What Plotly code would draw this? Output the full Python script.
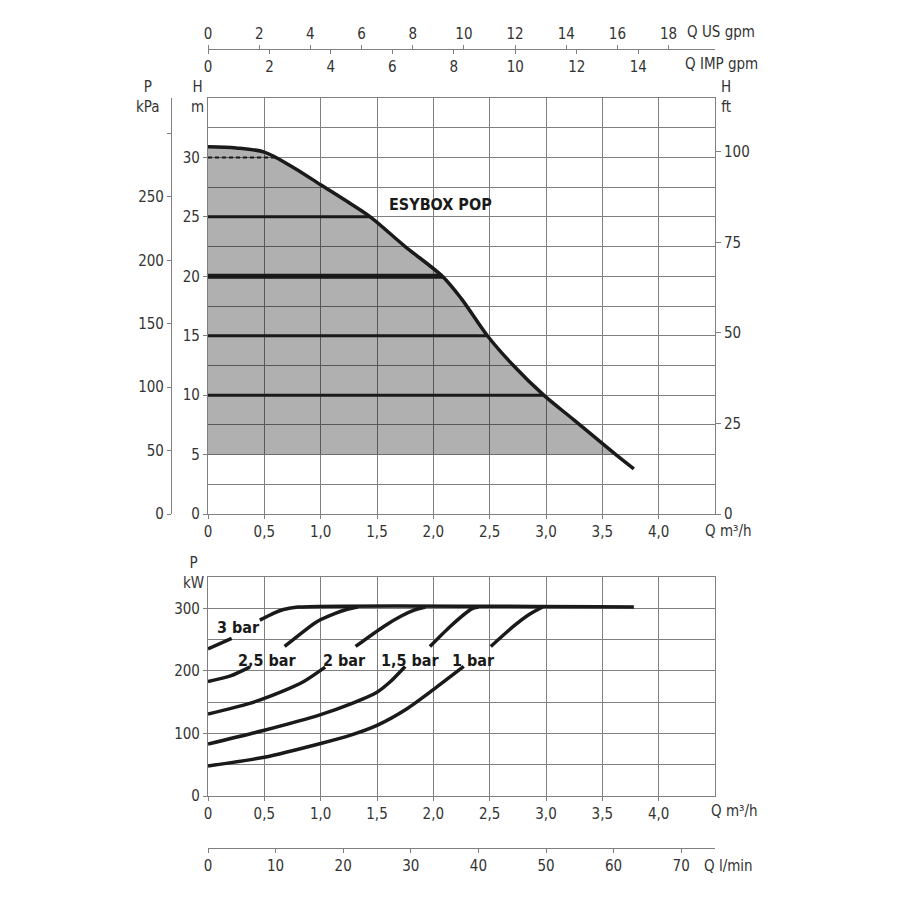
import plotly.graph_objects as go

# pump curve H(Q), Q in m3/h, H in m
q_curve = [0, 0.25, 0.5, 0.75, 1.0, 1.25, 1.44, 1.75, 2.08, 2.25, 2.48, 2.7, 2.98, 3.25, 3.62, 3.78]
h_curve = [30.9, 30.8, 30.45, 29.2, 27.7, 26.2, 25.0, 22.5, 20.0, 18.1, 15.0, 12.6, 10.0, 7.9, 5.0, 3.8]

# constant pressure lines inside the working area
h_levels = [10, 15, 20, 25]
q_level_end = [2.98, 2.48, 2.08, 1.44]
h_dashed = 30
q_dashed_end = 0.6
h_area_min = 5

# absorbed power, kW (None = gap for the label)
p_curves = {
    "3 bar": ([0, 0.21, None, 0.46, 0.58, 0.67, 0.8, 3.78],
              [235, 252, None, 281, 292, 298, 302, 302]),
    "2,5 bar": ([0, 0.2, 0.37, None, 0.68, 0.97, 1.13, 1.23, 1.33],
                [183, 192, 206, None, 239, 279, 292, 298, 302]),
    "2 bar": ([0, 0.37, 0.67, 0.85, 1.04, None, 1.31, 1.56, 1.72, 1.83, 1.93],
              [131, 148, 168, 183, 206, None, 239, 271, 288, 297, 302]),
    "1,5 bar": ([0, 0.5, 1.0, 1.25, 1.5, 1.62, 1.75, None, 1.97, 2.15, 2.34, 2.4],
                [83, 105, 130, 146, 166, 183, 207, None, 239, 271, 299, 302]),
    "1 bar": ([0, 0.5, 1.0, 1.26, 1.5, 1.77, 2.0, 2.27, None, 2.51, 2.71, 2.85, 2.97],
              [48, 62, 84, 97, 113, 140, 170, 207, None, 239, 271, 290, 302]),
}
label_q = [0.27, 0.53, 1.21, 1.80, 2.36]
label_p = [269, 217, 217, 217, 217]

q_ticks = [0, 0.5, 1.0, 1.5, 2.0, 2.5, 3.0, 3.5, 4.0]
q_text = ["0", "0,5", "1,0", "1,5", "2,0", "2,5", "3,0", "3,5", "4,0"]
h_ticks = [0, 5, 10, 15, 20, 25, 30]
h_minor = [2.5, 7.5, 12.5, 17.5, 22.5, 27.5, 32.5]
kpa_ticks = [0, 50, 100, 150, 200, 250, 300]
kpa_text = ["0", "50", "100", "150", "200", "250", ""]
ft_ticks = [0, 25, 50, 75, 100]
us_gpm_ticks = [0, 2, 4, 6, 8, 10, 12, 14, 16, 18]
imp_gpm_ticks = [0, 2, 4, 6, 8, 10, 12, 14]
p_ticks = [0, 100, 200, 300]
p_minor = [50, 150, 250]
lmin_ticks = [0, 10, 20, 30, 40, 50, 60, 70]

Q_MAX = 4.5
H_MAX = 35
P_MAX = 350

FONT = "Liberation Sans Narrow, DejaVu Sans Condensed, Arial Narrow, sans-serif"
TXT = "#333333"
GRID = "#808080"
INK = "#1a1a1a"

fig = go.Figure()

# grey working area, between H = 5 and the curve
area_q = [0, 0] + [q for q, h in zip(q_curve, h_curve) if h >= h_area_min]
area_h = [h_area_min, h_curve[0]] + [h for h in h_curve if h >= h_area_min]
fig.add_trace(go.Scatter(
    x=area_q, y=area_h, fill="toself", mode="none",
    fillcolor="rgba(0,0,0,0.31)", hoverinfo="skip", showlegend=False,
))

for h, q_end in zip(h_levels, q_level_end):
    fig.add_trace(go.Scatter(
        x=[0, q_end], y=[h, h], mode="lines",
        line=dict(color=INK, width=5 if h == 20 else 3),
        hoverinfo="skip", showlegend=False,
    ))

fig.add_trace(go.Scatter(
    x=[0, q_dashed_end], y=[h_dashed, h_dashed], mode="lines",
    line=dict(color=INK, width=2, dash="4px,3px"),
    hoverinfo="skip", showlegend=False,
))

fig.add_trace(go.Scatter(
    x=q_curve, y=h_curve, mode="lines",
    line=dict(color=INK, width=3.5, shape="spline", smoothing=0.9),
    name="ESYBOX POP", showlegend=False,
))

# power curves
for name, (qs, ps) in p_curves.items():
    fig.add_trace(go.Scatter(
        x=qs, y=ps, mode="lines", xaxis="x2", yaxis="y2",
        line=dict(color=INK, width=3.5, shape="spline", smoothing=0.7),
        connectgaps=False, name=name, showlegend=False,
    ))

# empty traces so the extra scales get drawn
for xa, ya in [("x3", "y"), ("x4", "y"), ("x", "y3"), ("x", "y4"), ("x5", "y2")]:
    fig.add_trace(go.Scatter(x=[None], y=[None], xaxis=xa, yaxis=ya,
                             showlegend=False, hoverinfo="skip"))

x_dom = [208 / 900, 715 / 900]
tick_font = dict(family=FONT, size=15, color=TXT)

common = dict(
    tickmode="array", ticks="outside", ticklen=4, tickcolor=GRID,
    tickfont=tick_font, zeroline=False, fixedrange=True, automargin=False,
)

base_x = dict(
    common, domain=x_dom, range=[0, Q_MAX], tickvals=q_ticks, ticktext=q_text,
    showgrid=True, gridcolor=GRID, gridwidth=1.2, showline=True, mirror=True,
    linecolor=GRID, linewidth=1.2,
)

fig.update_layout(
    width=900, height=900,
    margin=dict(l=0, r=0, t=0, b=0),
    paper_bgcolor="white", plot_bgcolor="white",
    font=dict(family=FONT, size=15, color=TXT),
    xaxis=dict(base_x, anchor="y"),
    yaxis=dict(
        common, domain=[1 - 514 / 900, 1 - 98 / 900], range=[0, H_MAX], anchor="x",
        tickvals=h_ticks, showgrid=True, gridcolor=GRID, gridwidth=1.2,
        minor=dict(tickmode="array", tickvals=h_minor, showgrid=True,
                   gridcolor=GRID, gridwidth=1.2, ticks=""),
        showline=True, mirror=True, linecolor=GRID, linewidth=1.2,
    ),
    yaxis3=dict(
        common, overlaying="y", anchor="free", position=171 / 900, side="left",
        range=[0, 328], tickvals=kpa_ticks, ticktext=kpa_text,
        showgrid=False, showline=True, linecolor=GRID, linewidth=1.2,
    ),
    yaxis4=dict(
        common, overlaying="y", anchor="x", side="right", range=[0, H_MAX * 3.2808],
        tickvals=ft_ticks, showgrid=False, showline=False, ticklen=5,
    ),
    xaxis3=dict(
        common, overlaying="x", anchor="free", position=1 - 49 / 900, side="top",
        range=[0, Q_MAX * 4.4029], tickvals=us_gpm_ticks,
        showgrid=False, showline=True, linecolor=GRID, linewidth=1.2,
    ),
    xaxis4=dict(
        common, overlaying="x", anchor="free", position=1 - 49 / 900, side="bottom",
        range=[0, Q_MAX * 3.6662], tickvals=imp_gpm_ticks,
        showgrid=False, showline=False,
    ),
    xaxis2=dict(base_x, anchor="y2"),
    yaxis2=dict(
        common, domain=[1 - 796 / 900, 1 - 577 / 900], range=[0, P_MAX], anchor="x2",
        tickvals=p_ticks, showgrid=True, gridcolor=GRID, gridwidth=1.2,
        minor=dict(tickmode="array", tickvals=p_minor, showgrid=True,
                   gridcolor=GRID, gridwidth=1.2, ticks=""),
        showline=True, mirror=True, linecolor=GRID, linewidth=1.2,
    ),
    xaxis5=dict(
        common, overlaying="x2", anchor="free", position=1 - 848 / 900, side="bottom",
        range=[0, Q_MAX * 1000 / 60], tickvals=lmin_ticks,
        showgrid=False, showline=True, linecolor=GRID, linewidth=1.2,
    ),
)


def note(text, px, py, anchor="center", size=15, bold=False):
    fig.add_annotation(
        text=f"<b>{text}</b>" if bold else text,
        x=px / 900, y=1 - py / 900, xref="paper", yref="paper",
        xanchor=anchor, yanchor="middle", showarrow=False,
        font=dict(family=FONT, size=size, color=TXT),
    )


note("Q US gpm", 721, 32)
note("Q IMP gpm", 721, 64)
note("P<br>kPa", 148, 97)
note("H<br>m", 197, 97)
note("H<br>ft", 726, 97)
note("Q m³/h", 728, 531)
note("P<br>kW", 193, 573)
note("Q m³/h", 734, 811)
note("Q l/min", 728, 866)

fig.add_annotation(
    text="<b>ESYBOX POP</b>", x=2.06, y=26.0, xref="x", yref="y",
    showarrow=False, font=dict(family=FONT, size=16, color=INK),
)
for name, lq, lp in zip(p_curves.keys(), label_q, label_p):
    fig.add_annotation(
        text=f"<b>{name}</b>", x=lq, y=lp, xref="x2", yref="y2",
        showarrow=False, font=dict(family=FONT, size=16, color=INK),
    )

fig.write_html("out.html", config={"displayModeBar": False},
               post_script="document.body.style.margin='0';")
